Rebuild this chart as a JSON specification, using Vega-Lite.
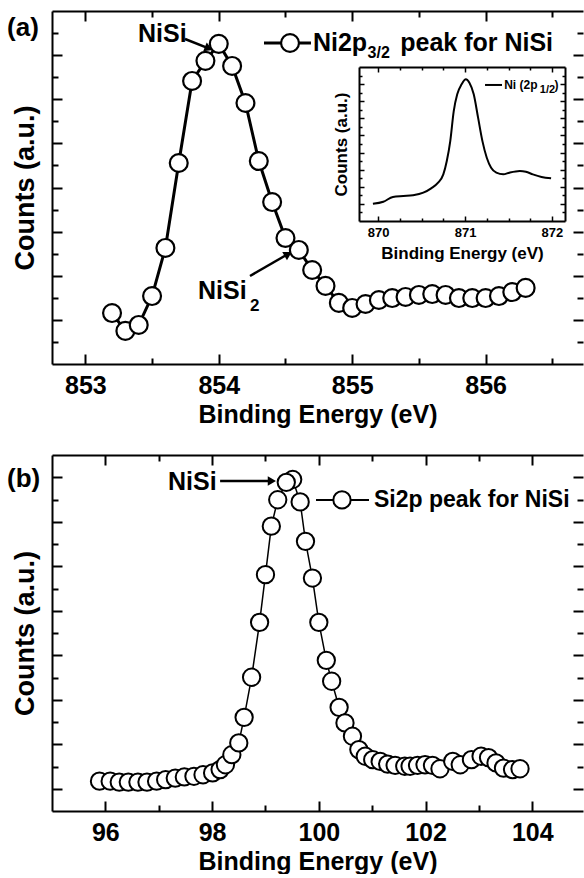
{
  "$schema": "https://vega.github.io/schema/vega-lite/v6.json",
  "padding": {"left": 7, "top": 10, "right": 0, "bottom": 0},
  "bounds": "flush",
  "spacing": 91,
  "config": {
    "view": {"stroke": null},
    "font": "Liberation Sans",
    "axis": {
      "grid": false, "domainColor": "black", "domainWidth": 2, "tickColor": "black", "tickWidth": 2,
      "labelColor": "black", "labelFont": "Liberation Sans", "labelFontSize": 25, "labelFontWeight": "bold",
      "titleColor": "black", "titleFont": "Liberation Sans", "titleFontSize": 25, "titleFontWeight": "bold",
      "labelFlush": false, "labelOverlap": false
    }
  },
  "datasets": {
    "a": [
      {"e": 853.2, "c": 1.31}, {"e": 853.3, "c": 0.50}, {"e": 853.4, "c": 0.77}, {"e": 853.5, "c": 2.08},
      {"e": 853.6, "c": 4.26}, {"e": 853.7, "c": 8.11}, {"e": 853.8, "c": 11.83}, {"e": 853.9, "c": 12.74},
      {"e": 854.0, "c": 13.51}, {"e": 854.1, "c": 12.51}, {"e": 854.2, "c": 10.83}, {"e": 854.3, "c": 8.20},
      {"e": 854.4, "c": 6.34}, {"e": 854.5, "c": 4.71}, {"e": 854.6, "c": 4.17}, {"e": 854.7, "c": 3.26},
      {"e": 854.8, "c": 2.54}, {"e": 854.9, "c": 1.77}, {"e": 855.0, "c": 1.54}, {"e": 855.1, "c": 1.72},
      {"e": 855.2, "c": 1.90}, {"e": 855.3, "c": 1.99}, {"e": 855.4, "c": 2.04}, {"e": 855.5, "c": 2.13},
      {"e": 855.6, "c": 2.17}, {"e": 855.7, "c": 2.13}, {"e": 855.8, "c": 1.99}, {"e": 855.9, "c": 1.99},
      {"e": 856.0, "c": 1.99}, {"e": 856.1, "c": 2.08}, {"e": 856.2, "c": 2.26}, {"e": 856.3, "c": 2.45}
    ],
    "b": [
      {"e": 95.89, "c": 0.34}, {"e": 96.09, "c": 0.34}, {"e": 96.26, "c": 0.30}, {"e": 96.43, "c": 0.30},
      {"e": 96.61, "c": 0.30}, {"e": 96.78, "c": 0.30}, {"e": 96.96, "c": 0.34}, {"e": 97.13, "c": 0.41},
      {"e": 97.31, "c": 0.48}, {"e": 97.48, "c": 0.53}, {"e": 97.66, "c": 0.56}, {"e": 97.83, "c": 0.63},
      {"e": 98.01, "c": 0.71}, {"e": 98.15, "c": 0.86}, {"e": 98.25, "c": 1.08}, {"e": 98.37, "c": 1.53},
      {"e": 98.50, "c": 2.06}, {"e": 98.60, "c": 3.21}, {"e": 98.74, "c": 5.01}, {"e": 98.89, "c": 7.48},
      {"e": 99.00, "c": 9.62}, {"e": 99.11, "c": 11.80}, {"e": 99.23, "c": 12.99}, {"e": 99.51, "c": 13.90},
      {"e": 99.39, "c": 13.77}, {"e": 99.65, "c": 12.89}, {"e": 99.75, "c": 11.12}, {"e": 99.88, "c": 9.47},
      {"e": 100.00, "c": 7.48}, {"e": 100.14, "c": 5.77}, {"e": 100.24, "c": 4.83}, {"e": 100.38, "c": 3.66},
      {"e": 100.49, "c": 2.96}, {"e": 100.63, "c": 2.36}, {"e": 100.75, "c": 1.76}, {"e": 100.87, "c": 1.46},
      {"e": 101.01, "c": 1.31}, {"e": 101.15, "c": 1.23}, {"e": 101.29, "c": 1.11}, {"e": 101.43, "c": 1.05},
      {"e": 101.61, "c": 1.01}, {"e": 101.71, "c": 1.01}, {"e": 101.85, "c": 1.05}, {"e": 101.99, "c": 1.08},
      {"e": 102.13, "c": 1.05}, {"e": 102.27, "c": 0.90}, {"e": 102.51, "c": 1.23}, {"e": 102.65, "c": 1.08},
      {"e": 102.86, "c": 1.31}, {"e": 103.04, "c": 1.46}, {"e": 103.18, "c": 1.40}, {"e": 103.32, "c": 1.16},
      {"e": 103.46, "c": 0.93}, {"e": 103.63, "c": 0.86}, {"e": 103.77, "c": 0.90}
    ],
    "inset": [
      {"e": 869.94, "c": 2.02}, {"e": 870.06, "c": 2.25}, {"e": 870.17, "c": 2.81}, {"e": 870.29, "c": 2.92},
      {"e": 870.40, "c": 3.01}, {"e": 870.52, "c": 3.31}, {"e": 870.61, "c": 3.82}, {"e": 870.69, "c": 4.48},
      {"e": 870.75, "c": 5.45}, {"e": 870.79, "c": 7.02}, {"e": 870.83, "c": 9.34}, {"e": 870.87, "c": 12.85},
      {"e": 870.91, "c": 14.81}, {"e": 870.96, "c": 15.97}, {"e": 871.01, "c": 16.56}, {"e": 871.05, "c": 16.16},
      {"e": 871.10, "c": 14.81}, {"e": 871.15, "c": 12.08}, {"e": 871.20, "c": 9.34}, {"e": 871.25, "c": 7.40},
      {"e": 871.30, "c": 6.23}, {"e": 871.36, "c": 5.65}, {"e": 871.44, "c": 5.45}, {"e": 871.51, "c": 5.65},
      {"e": 871.63, "c": 5.85}, {"e": 871.70, "c": 5.76}, {"e": 871.78, "c": 5.45}, {"e": 871.88, "c": 5.15},
      {"e": 871.99, "c": 4.99}
    ]
  },
  "vconcat": [
    {
      "width": 531,
      "height": 353,
      "layer": [
        {
          "layer": [
            {
              "data": {"name": "a"},
              "mark": {"type": "line", "color": "black", "strokeWidth": 3},
              "encoding": {
                "x": {"field": "e", "type": "quantitative", "scale": {"domain": [852.75, 856.73], "nice": false, "zero": false},
                  "axis": {"orient": "bottom", "values": [853, 853.5, 854, 854.5, 855, 855.5, 856, 856.5],
                    "labelExpr": "datum.value % 1 === 0 ? format(datum.value, 'd') : ''",
                    "tickSize": {"condition": {"test": "datum.value % 1 === 0", "value": -10}, "value": -6},
                    "labelPadding": 19, "title": "Binding Energy (eV)", "titlePadding": 0}},
                "y": {"field": "c", "type": "quantitative", "scale": {"domain": [-1, 15], "nice": false, "zero": false},
                  "axis": {"orient": "left", "values": [0,1,2,3,4,5,6,7,8,9,10,11,12,13,14], "labels": false,
                    "tickSize": {"condition": {"test": "datum.value % 2 === 1", "value": -10}, "value": -6},
                    "title": "Counts (a.u.)", "titleFontSize": 27, "titlePadding": 12}}
              }
            },
            {
              "data": {"name": "a"},
              "mark": {"type": "point", "opacity": 0},
              "encoding": {
                "x": {"field": "e", "type": "quantitative", "scale": {"domain": [852.75, 856.73], "nice": false, "zero": false},
                  "axis": {"orient": "top", "values": [853, 853.5, 854, 854.5, 855, 855.5, 856, 856.5], "labels": false, "title": null,
                    "tickSize": {"condition": {"test": "datum.value % 1 === 0", "value": -10}, "value": -6}}},
                "y": {"field": "c", "type": "quantitative", "scale": {"domain": [-1, 15], "nice": false, "zero": false},
                  "axis": {"orient": "right", "values": [0,1,2,3,4,5,6,7,8,9,10,11,12,13,14], "labels": false, "title": null, "domain": false,
                    "tickSize": {"condition": {"test": "datum.value % 2 === 1", "value": -10}, "value": -6}}}
              }
            },
            {
              "data": {"values": [
                {"x": 853.747, "y": 13.73, "x2": 853.915, "y2": 13.33},
                {"x": 854.234, "y": 2.99, "x2": 854.51, "y2": 3.95}
              ]},
              "mark": {"type": "rule", "color": "black", "strokeWidth": 2.5},
              "encoding": {
                "x": {"field": "x", "type": "quantitative", "scale": {"domain": [852.75, 856.73], "nice": false, "zero": false}, "axis": null},
                "y": {"field": "y", "type": "quantitative", "scale": {"domain": [-1, 15], "nice": false, "zero": false}, "axis": null},
                "x2": {"field": "x2"},
                "y2": {"field": "y2"}
              }
            },
            {
              "data": {"values": [{"x": 854.339, "y": 13.55, "x2": 854.691, "y2": 13.55}]},
              "mark": {"type": "rule", "color": "black", "strokeWidth": 3},
              "encoding": {
                "x": {"field": "x", "type": "quantitative", "scale": {"domain": [852.75, 856.73], "nice": false, "zero": false}, "axis": null},
                "y": {"field": "y", "type": "quantitative", "scale": {"domain": [-1, 15], "nice": false, "zero": false}, "axis": null},
                "x2": {"field": "x2"},
                "y2": {"field": "y2"}
              }
            },
            {
              "data": {"values": [{"x": 853.925, "y": 13.30}]},
              "mark": {"type": "point", "shape": "triangle-right", "filled": true, "color": "black", "opacity": 1, "size": 90, "angle": 22},
              "encoding": {
                "x": {"field": "x", "type": "quantitative", "scale": {"domain": [852.75, 856.73], "nice": false, "zero": false}, "axis": null},
                "y": {"field": "y", "type": "quantitative", "scale": {"domain": [-1, 15], "nice": false, "zero": false}, "axis": null}
              }
            },
            {
              "data": {"values": [{"x": 854.52, "y": 3.98}]},
              "mark": {"type": "point", "shape": "triangle-right", "filled": true, "color": "black", "opacity": 1, "size": 90, "angle": -30},
              "encoding": {
                "x": {"field": "x", "type": "quantitative", "scale": {"domain": [852.75, 856.73], "nice": false, "zero": false}, "axis": null},
                "y": {"field": "y", "type": "quantitative", "scale": {"domain": [-1, 15], "nice": false, "zero": false}, "axis": null}
              }
            },
            {
              "data": {"name": "a"},
              "mark": {"type": "point", "shape": "circle", "filled": true, "fill": "white", "stroke": "black", "strokeWidth": 2.2, "size": 320, "opacity": 1},
              "encoding": {
                "x": {"field": "e", "type": "quantitative", "scale": {"domain": [852.75, 856.73], "nice": false, "zero": false}, "axis": null},
                "y": {"field": "c", "type": "quantitative", "scale": {"domain": [-1, 15], "nice": false, "zero": false}, "axis": null}
              }
            },
            {
              "data": {"values": [{"x": 854.534, "y": 13.55}]},
              "mark": {"type": "point", "shape": "circle", "filled": true, "fill": "white", "stroke": "black", "strokeWidth": 2.2, "size": 320, "opacity": 1},
              "encoding": {
                "x": {"field": "x", "type": "quantitative", "scale": {"domain": [852.75, 856.73], "nice": false, "zero": false}, "axis": null},
                "y": {"field": "y", "type": "quantitative", "scale": {"domain": [-1, 15], "nice": false, "zero": false}, "axis": null}
              }
            },
            {
              "data": {"values": [{"x": 852.413, "y": 14.23, "t": "(a)"}]},
              "mark": {"type": "text", "align": "left", "baseline": "middle", "fontSize": 26, "fontWeight": "bold", "color": "black"},
              "encoding": {
                "x": {"field": "x", "type": "quantitative", "scale": {"domain": [852.75, 856.73], "nice": false, "zero": false}, "axis": null},
                "y": {"field": "y", "type": "quantitative", "scale": {"domain": [-1, 15], "nice": false, "zero": false}, "axis": null},
                "text": {"field": "t"}
              }
            },
            {
              "data": {"values": [
                {"x": 853.395, "y": 13.96, "t": "NiSi"},
                {"x": 853.844, "y": 2.31, "t": "NiSi"},
                {"x": 854.706, "y": 13.55, "t": "Ni2p"},
                {"x": 855.36, "y": 13.55, "t": "peak for NiSi"}
              ]},
              "mark": {"type": "text", "align": "left", "baseline": "middle", "fontSize": 25, "fontWeight": "bold", "color": "black"},
              "encoding": {
                "x": {"field": "x", "type": "quantitative", "scale": {"domain": [852.75, 856.73], "nice": false, "zero": false}, "axis": null},
                "y": {"field": "y", "type": "quantitative", "scale": {"domain": [-1, 15], "nice": false, "zero": false}, "axis": null},
                "text": {"field": "t"}
              }
            },
            {
              "data": {"values": [{"x": 854.234, "y": 1.63, "t": "2"}]},
              "mark": {"type": "text", "align": "left", "baseline": "middle", "fontSize": 17, "fontWeight": "bold", "color": "black"},
              "encoding": {
                "x": {"field": "x", "type": "quantitative", "scale": {"domain": [852.75, 856.73], "nice": false, "zero": false}, "axis": null},
                "y": {"field": "y", "type": "quantitative", "scale": {"domain": [-1, 15], "nice": false, "zero": false}, "axis": null},
                "text": {"field": "t"}
              }
            },
            {
              "data": {"values": [{"x": 855.115, "y": 13.10, "t": "3/2"}]},
              "mark": {"type": "text", "align": "left", "baseline": "middle", "fontSize": 16, "fontWeight": "bold", "color": "black"},
              "encoding": {
                "x": {"field": "x", "type": "quantitative", "scale": {"domain": [852.75, 856.73], "nice": false, "zero": false}, "axis": null},
                "y": {"field": "y", "type": "quantitative", "scale": {"domain": [-1, 15], "nice": false, "zero": false}, "axis": null},
                "text": {"field": "t"}
              }
            }
          ],
          "resolve": {"axis": {"x": "independent", "y": "independent"}}
        },
        {
          "layer": [
            {
              "data": {"name": "inset"},
              "mark": {"type": "line", "color": "black", "strokeWidth": 2, "interpolate": "monotone"},
              "encoding": {
                "x": {"field": "e", "type": "quantitative", "scale": {"domain": [869.78, 872.15], "range": [307, 513], "nice": false, "zero": false},
                  "axis": {"orient": "bottom", "offset": -143, "values": [870, 870.25, 870.5, 870.75, 871, 871.25, 871.5, 871.75, 872],
                    "labelExpr": "datum.value % 1 === 0 ? format(datum.value, 'd') : ''",
                    "tickSize": {"condition": {"test": "datum.value % 1 === 0", "value": -5}, "value": -3},
                    "tickWidth": 1.5, "labelFontSize": 13, "labelPadding": 10,
                    "title": "Binding Energy (eV)", "titleFontSize": 17, "titlePadding": 4}},
                "y": {"field": "c", "type": "quantitative", "scale": {"domain": [0, 18], "range": [210, 56], "nice": false, "zero": false},
                  "axis": {"orient": "left", "offset": -307, "values": [1,2,3,4,5,6,7,8,9,10,11,12,13,14,15,16,17], "labels": false,
                    "tickSize": {"condition": {"test": "datum.value % 2 === 0", "value": -5}, "value": -3},
                    "tickWidth": 1.5, "title": "Counts (a.u.)", "titleFontSize": 17, "titlePadding": 8}}
              }
            },
            {
              "data": {"name": "inset"},
              "mark": {"type": "point", "opacity": 0},
              "encoding": {
                "x": {"field": "e", "type": "quantitative", "scale": {"domain": [869.78, 872.15], "range": [307, 513], "nice": false, "zero": false},
                  "axis": {"orient": "top", "offset": -56, "values": [870, 870.25, 870.5, 870.75, 871, 871.25, 871.5, 871.75, 872], "labels": false, "title": null,
                    "tickSize": {"condition": {"test": "datum.value % 1 === 0", "value": -5}, "value": -3}, "tickWidth": 1.5}},
                "y": {"field": "c", "type": "quantitative", "scale": {"domain": [0, 18], "range": [210, 56], "nice": false, "zero": false},
                  "axis": {"orient": "right", "offset": -18, "values": [1,2,3,4,5,6,7,8,9,10,11,12,13,14,15,16,17], "labels": false, "title": null,
                    "tickSize": {"condition": {"test": "datum.value % 2 === 0", "value": -5}, "value": -3}, "tickWidth": 1.5}}
              }
            },
            {
              "data": {"values": [{"x": 871.23, "y": 15.9, "x2": 871.425, "y2": 15.9}]},
              "mark": {"type": "rule", "color": "black", "strokeWidth": 2},
              "encoding": {
                "x": {"field": "x", "type": "quantitative", "scale": {"domain": [869.78, 872.15], "range": [307, 513], "nice": false, "zero": false}, "axis": null},
                "y": {"field": "y", "type": "quantitative", "scale": {"domain": [0, 18], "range": [210, 56], "nice": false, "zero": false}, "axis": null},
                "x2": {"field": "x2"},
                "y2": {"field": "y2"}
              }
            },
            {
              "data": {"values": [{"x": 871.45, "y": 15.9, "t": "Ni (2p"}, {"x": 872.03, "y": 15.9, "t": ")"}]},
              "mark": {"type": "text", "align": "left", "baseline": "middle", "fontSize": 12, "fontWeight": "bold", "color": "black"},
              "encoding": {
                "x": {"field": "x", "type": "quantitative", "scale": {"domain": [869.78, 872.15], "range": [307, 513], "nice": false, "zero": false}, "axis": null},
                "y": {"field": "y", "type": "quantitative", "scale": {"domain": [0, 18], "range": [210, 56], "nice": false, "zero": false}, "axis": null},
                "text": {"field": "t"}
              }
            },
            {
              "data": {"values": [{"x": 871.86, "y": 15.3, "t": "1/2"}]},
              "mark": {"type": "text", "align": "left", "baseline": "middle", "fontSize": 11, "fontWeight": "bold", "color": "black"},
              "encoding": {
                "x": {"field": "x", "type": "quantitative", "scale": {"domain": [869.78, 872.15], "range": [307, 513], "nice": false, "zero": false}, "axis": null},
                "y": {"field": "y", "type": "quantitative", "scale": {"domain": [0, 18], "range": [210, 56], "nice": false, "zero": false}, "axis": null},
                "text": {"field": "t"}
              }
            }
          ],
          "resolve": {"axis": {"x": "independent", "y": "independent"}}
        }
      ],
      "resolve": {"scale": {"x": "independent", "y": "independent"}}
    },
    {
      "width": 531,
      "height": 356,
      "layer": [
        {
          "data": {"name": "b"},
          "mark": {"type": "line", "color": "black", "strokeWidth": 1.5},
          "encoding": {
            "x": {"field": "e", "type": "quantitative", "sort": null, "scale": {"domain": [95, 104.95], "nice": false, "zero": false},
              "axis": {"orient": "bottom", "values": [96, 97, 98, 99, 100, 101, 102, 103, 104],
                "labelExpr": "datum.value % 2 === 0 ? format(datum.value, 'd') : ''",
                "tickSize": {"condition": {"test": "datum.value % 2 === 0", "value": -10}, "value": -6},
                "labelPadding": 19, "title": "Binding Energy (eV)", "titlePadding": 0}},
            "y": {"field": "c", "type": "quantitative", "scale": {"domain": [-1, 15], "nice": false, "zero": false},
              "axis": {"orient": "left", "values": [0,1,2,3,4,5,6,7,8,9,10,11,12,13,14], "labels": false,
                "tickSize": {"condition": {"test": "datum.value % 2 === 0", "value": -10}, "value": -6},
                "title": "Counts (a.u.)", "titleFontSize": 27, "titlePadding": 12}}
          }
        },
        {
          "data": {"name": "b"},
          "mark": {"type": "point", "opacity": 0},
          "encoding": {
            "x": {"field": "e", "type": "quantitative", "scale": {"domain": [95, 104.95], "nice": false, "zero": false},
              "axis": {"orient": "top", "values": [96, 97, 98, 99, 100, 101, 102, 103, 104], "labels": false, "title": null,
                "tickSize": {"condition": {"test": "datum.value % 2 === 0", "value": -10}, "value": -6}}},
            "y": {"field": "c", "type": "quantitative", "scale": {"domain": [-1, 15], "nice": false, "zero": false},
              "axis": {"orient": "right", "values": [0,1,2,3,4,5,6,7,8,9,10,11,12,13,14], "labels": false, "title": null, "domain": false,
                "tickSize": {"condition": {"test": "datum.value % 2 === 0", "value": -10}, "value": -6}}}
          }
        },
        {
          "data": {"values": [{"x": 98.15, "y": 13.83, "x2": 99.1, "y2": 13.83}]},
          "mark": {"type": "rule", "color": "black", "strokeWidth": 2.5},
          "encoding": {
            "x": {"field": "x", "type": "quantitative", "scale": {"domain": [95, 104.95], "nice": false, "zero": false}, "axis": null},
            "y": {"field": "y", "type": "quantitative", "scale": {"domain": [-1, 15], "nice": false, "zero": false}, "axis": null},
            "x2": {"field": "x2"},
            "y2": {"field": "y2"}
          }
        },
        {
          "data": {"values": [{"x": 99.947, "y": 12.98, "x2": 100.94, "y2": 12.98}]},
          "mark": {"type": "rule", "color": "black", "strokeWidth": 2},
          "encoding": {
            "x": {"field": "x", "type": "quantitative", "scale": {"domain": [95, 104.95], "nice": false, "zero": false}, "axis": null},
            "y": {"field": "y", "type": "quantitative", "scale": {"domain": [-1, 15], "nice": false, "zero": false}, "axis": null},
            "x2": {"field": "x2"},
            "y2": {"field": "y2"}
          }
        },
        {
          "data": {"values": [{"x": 99.12, "y": 13.83}]},
          "mark": {"type": "point", "shape": "triangle-right", "filled": true, "color": "black", "opacity": 1, "size": 90, "angle": 0},
          "encoding": {
            "x": {"field": "x", "type": "quantitative", "scale": {"domain": [95, 104.95], "nice": false, "zero": false}, "axis": null},
            "y": {"field": "y", "type": "quantitative", "scale": {"domain": [-1, 15], "nice": false, "zero": false}, "axis": null}
          }
        },
        {
          "data": {"name": "b"},
          "mark": {"type": "point", "shape": "circle", "filled": true, "fill": "white", "stroke": "black", "strokeWidth": 2, "size": 300, "opacity": 1},
          "encoding": {
            "x": {"field": "e", "type": "quantitative", "scale": {"domain": [95, 104.95], "nice": false, "zero": false}, "axis": null},
            "y": {"field": "c", "type": "quantitative", "scale": {"domain": [-1, 15], "nice": false, "zero": false}, "axis": null}
          }
        },
        {
          "data": {"values": [{"x": 100.434, "y": 12.98}]},
          "mark": {"type": "point", "shape": "circle", "filled": true, "fill": "white", "stroke": "black", "strokeWidth": 2, "size": 300, "opacity": 1},
          "encoding": {
            "x": {"field": "x", "type": "quantitative", "scale": {"domain": [95, 104.95], "nice": false, "zero": false}, "axis": null},
            "y": {"field": "y", "type": "quantitative", "scale": {"domain": [-1, 15], "nice": false, "zero": false}, "axis": null}
          }
        },
        {
          "data": {"values": [{"x": 94.157, "y": 13.92, "t": "(b)"}]},
          "mark": {"type": "text", "align": "left", "baseline": "middle", "fontSize": 26, "fontWeight": "bold", "color": "black"},
          "encoding": {
            "x": {"field": "x", "type": "quantitative", "scale": {"domain": [95, 104.95], "nice": false, "zero": false}, "axis": null},
            "y": {"field": "y", "type": "quantitative", "scale": {"domain": [-1, 15], "nice": false, "zero": false}, "axis": null},
            "text": {"field": "t"}
          }
        },
        {
          "data": {"values": [{"x": 97.173, "y": 13.79, "t": "NiSi"}]},
          "mark": {"type": "text", "align": "left", "baseline": "middle", "fontSize": 25, "fontWeight": "bold", "color": "black"},
          "encoding": {
            "x": {"field": "x", "type": "quantitative", "scale": {"domain": [95, 104.95], "nice": false, "zero": false}, "axis": null},
            "y": {"field": "y", "type": "quantitative", "scale": {"domain": [-1, 15], "nice": false, "zero": false}, "axis": null},
            "text": {"field": "t"}
          }
        },
        {
          "data": {"values": [{"x": 101.033, "y": 12.98, "t": "Si2p peak for NiSi"}]},
          "mark": {"type": "text", "align": "left", "baseline": "middle", "fontSize": 23, "fontWeight": "bold", "color": "black"},
          "encoding": {
            "x": {"field": "x", "type": "quantitative", "scale": {"domain": [95, 104.95], "nice": false, "zero": false}, "axis": null},
            "y": {"field": "y", "type": "quantitative", "scale": {"domain": [-1, 15], "nice": false, "zero": false}, "axis": null},
            "text": {"field": "t"}
          }
        }
      ],
      "resolve": {"axis": {"x": "independent", "y": "independent"}}
    }
  ]
}
